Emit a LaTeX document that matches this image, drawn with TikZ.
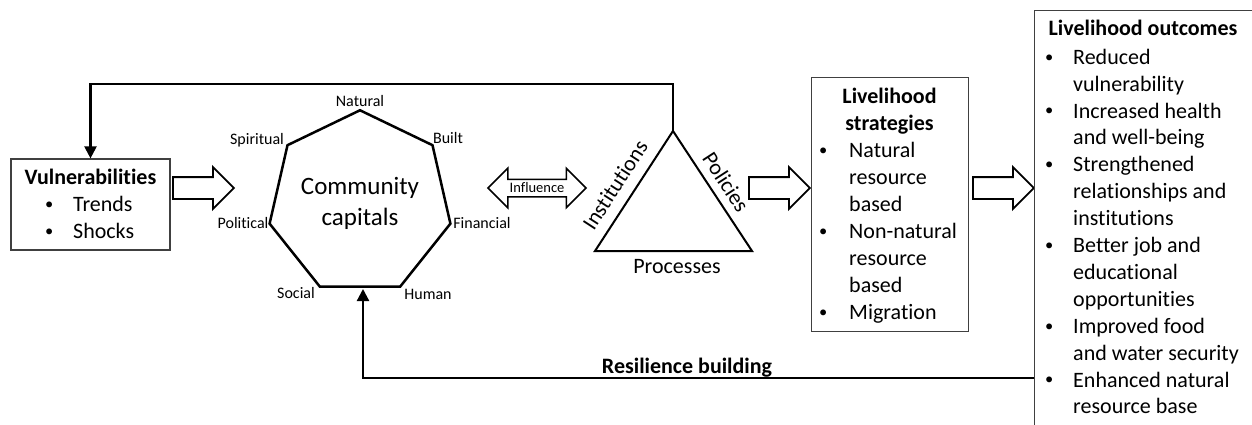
\documentclass[tikz,border=0pt]{standalone}
\usepackage{fontspec}
\setmainfont{Carlito}[Ligatures=NoCommon]
\usetikzlibrary{shapes.geometric,shapes.arrows,arrows.meta,calc}
\newcommand\bl[1]{\makebox[24pt][c]{\raisebox{2.2pt}{\fontsize{16.5}{16.5}\selectfont\textbullet}}\hspace{#1}}
\newcommand\cn[1]{\hspace*{\dimexpr24pt+#1\relax}}
\tikzset{
  conn/.style={line width=2.2pt, -{Triangle[width=12pt,length=12pt]}},
  frame/.style={draw=black!75, line width=1.2pt, inner sep=0pt},
  blockarrow/.style={single arrow, draw, line width=1.8pt, text height=0pt, text depth=0pt,
    inner xsep=0pt, inner ysep=10pt, single arrow head extend=10pt,
    single arrow tip angle=90, minimum height=61pt, anchor=tail},
  vlabel/.style={font=\fontsize{16}{19}\selectfont, inner sep=0pt},
  body/.style={font=\fontsize{22}{27}\selectfont, inner sep=0pt, align=left},
  outbody/.style={font=\fontsize{22}{26.9}\selectfont, inner sep=0pt, align=left},
  title/.style={font=\fontsize{22}{27}\selectfont\bfseries, inner sep=0pt, align=center},
  plain/.style={font=\fontsize{22}{27}\selectfont, inner sep=0pt},
}
\begin{document}
\begin{tikzpicture}[x=1pt,y=-1pt]
\useasboundingbox (0,0) rectangle (1252,425);
\clip (0,0) rectangle (1252,425);

% Vulnerabilities
\node[frame, minimum width=159pt, minimum height=91pt] (vuln) at (90.5,204.5) {};
\node[title, anchor=base] (vulnt) at (90.5,184) {Vulnerabilities};
\node[body, anchor=north west] (vulnl) at (37,192.1) {\strut\bl{12pt}Trends\\\bl{12pt}Shocks};

% block arrows
\node[blockarrow] (a1) at (172,188) {};
\node[blockarrow] (a2) at (748,188) {};
\node[blockarrow] (a3) at (972,188) {};

% Community capitals
\node[regular polygon, regular polygon sides=7, draw, line width=2.5pt, minimum size=176pt,
      inner sep=0pt, align=center, font=\fontsize{25}{31}\selectfont] (capitals) at (360,203) {Community\\capitals};
\node[vlabel] (natural) at (360,101) {Natural};
\node[vlabel] (spiritual) at (257,140) {Spiritual};
\node[vlabel] (built) at (448,138) {Built};
\node[vlabel] (political) at (243,223) {Political};
\node[vlabel] (financial) at (482,223) {Financial};
\node[vlabel] (social) at (296,293) {Social};
\node[vlabel] (human) at (428,294) {Human};

% Influence
\node[double arrow, draw, line width=1.5pt, text height=0pt, text depth=0pt, inner xsep=0pt,
      inner ysep=8pt, double arrow head extend=11pt, double arrow tip angle=90,
      minimum height=98pt] (infl) at (537,188) {};
\node[font=\fontsize{14.5}{17}\selectfont, inner sep=0pt] (inflt) at (537,188) {Influence};

% Triangle
\coordinate (apex) at (673,131);
\coordinate (tbl) at (595,251);
\coordinate (tbr) at (752,251);
\draw[line width=2pt, line join=miter] (apex) -- (tbl) -- (tbr) -- cycle;
\node[plain, rotate=57] (inst) at (615,185) {Institutions};
\node[plain, rotate=-57] (pol) at (726,182) {Policies};
\node[plain] (proc) at (677,267) {Processes};

% Livelihood strategies
\node[frame, minimum width=157pt, minimum height=254pt, anchor=north west] (strat) at (811,77) {};
\node[title, anchor=north] (stratt) at (889.5,84.1) {\strut Livelihood\\strategies};
\node[body, anchor=north west] (stratl) at (811,138.1) {\strut\bl{14pt}Natural\\\cn{14pt}resource\\\cn{14pt}based\\\bl{14pt}Non-natural\\\cn{14pt}resource\\\cn{14pt}based\\\bl{14pt}Migration};

% Livelihood outcomes
\node[frame, minimum width=240pt, minimum height=440pt, anchor=north west] (outc) at (1034,10) {};
\node[title, anchor=base] (outt) at (1143,36) {Livelihood outcomes};
\node[outbody, anchor=north west] (outl) at (1037,45.2) {\strut\bl{12pt}Reduced\\
\cn{12pt}vulnerability\\
\bl{12pt}Increased health\\
\cn{12pt}and well-being\\
\bl{12pt}Strengthened\\
\cn{12pt}relationships and\\
\cn{12pt}institutions\\
\bl{12pt}Better job and\\
\cn{12pt}educational\\
\cn{12pt}opportunities\\
\bl{12pt}Improved food\\
\cn{12pt}and water security\\
\bl{12pt}Enhanced natural\\
\cn{12pt}resource base};

% feedback connectors
\coordinate (topR) at (673,84);
\draw[conn] (apex) -- (topR) -| (vuln.north);
\coordinate (resL) at (363,378);
\coordinate (restip) at (363,289);
\draw[conn] (outc.west |- resL) -- (resL) -- (restip);
\node[title, anchor=base] (resl) at (687,373) {Resilience building};
\end{tikzpicture}
\end{document}
